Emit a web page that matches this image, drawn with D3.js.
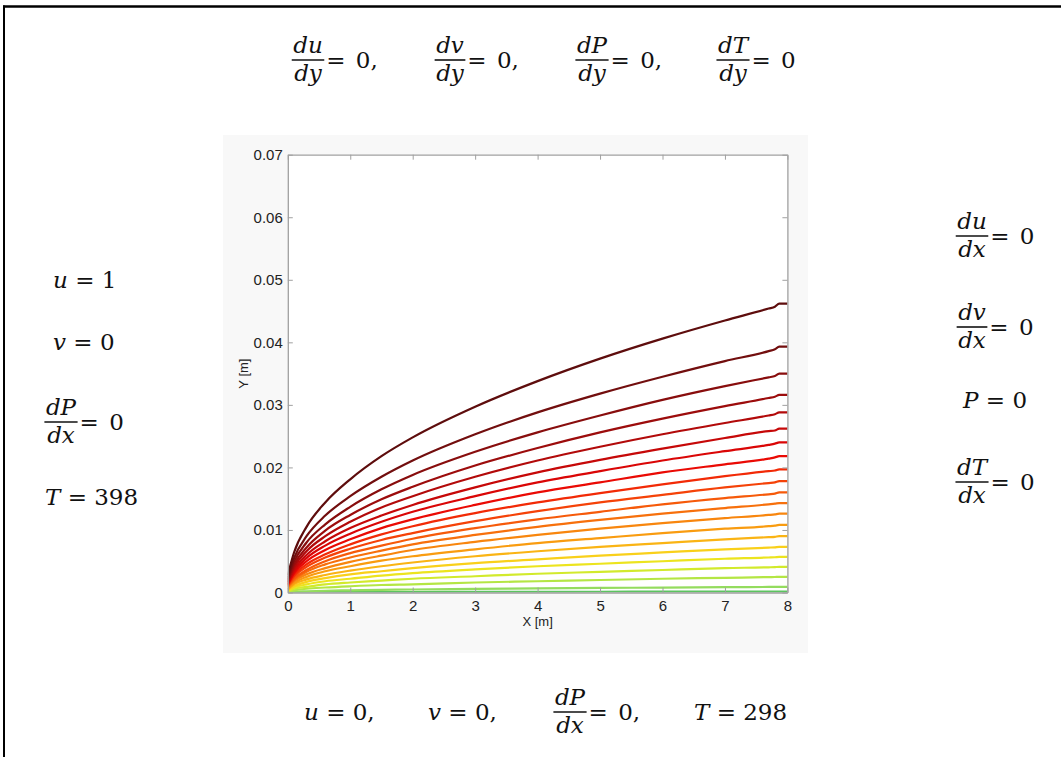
<!DOCTYPE html>
<html>
<head>
<meta charset="utf-8">
<script src="https://cdn.jsdelivr.net/npm/d3@7"></script>
<style>
  html, body { margin: 0; padding: 0; background: #fff; }
  svg { display: block; }
  .eq { font-family: "DejaVu Serif", serif; font-size: 23px; fill: #111; white-space: pre; }
  .tick text { font-family: "Liberation Sans", Arial, sans-serif; font-size: 15px; fill: #222; }
  .axlabel { font-family: "Liberation Sans", Arial, sans-serif; font-size: 13px; fill: #222; }
</style>
</head>
<body>
<svg id="fig" width="1061" height="757"></svg>
<script>
// Stations along the plate where the isotherm heights are sampled (m)
const xStations = [0, 0.1, 0.3, 0.6, 1, 1.5, 2, 3, 4, 5, 6, 7, 7.7, 7.8, 7.87, 8];

// Isotherm heights above the plate at each station (mm), outermost first
const isotherms = [
  [2.8, 6.4, 10.5, 14.4, 18.1, 21.8, 24.8, 29.7, 33.8, 37.4, 40.6, 43.5, 45.4, 45.7, 46.2, 46.2],
  [2.4, 5.5, 9.0, 12.3, 15.4, 18.5, 21.1, 25.3, 28.8, 31.8, 34.5, 37.0, 38.6, 38.9, 39.3, 39.3],
  [2.1, 4.9, 8.0, 10.9, 13.7, 16.5, 18.8, 22.5, 25.6, 28.3, 30.8, 33.0, 34.4, 34.6, 35.0, 35.0],
  [1.9, 4.4, 7.2, 9.9, 12.4, 14.9, 16.9, 20.3, 23.1, 25.6, 27.8, 29.8, 31.1, 31.3, 31.6, 31.6],
  [1.7, 4.0, 6.6, 9.0, 11.3, 13.6, 15.4, 18.5, 21.1, 23.3, 25.3, 27.1, 28.3, 28.5, 28.8, 28.8],
  [1.6, 3.6, 6.0, 8.2, 10.3, 12.3, 14.0, 16.8, 19.2, 21.2, 23.0, 24.7, 25.8, 25.9, 26.2, 26.2],
  [1.4, 3.3, 5.5, 7.5, 9.4, 11.3, 12.9, 15.4, 17.6, 19.4, 21.1, 22.6, 23.6, 23.8, 24.0, 24.0],
  [1.3, 3.0, 5.0, 6.8, 8.5, 10.3, 11.7, 14.0, 16.0, 17.6, 19.2, 20.5, 21.4, 21.6, 21.8, 21.8],
  [1.2, 2.7, 4.5, 6.1, 7.7, 9.3, 10.6, 12.7, 14.4, 15.9, 17.3, 18.6, 19.4, 19.5, 19.7, 19.7],
  [1.1, 2.5, 4.1, 5.6, 7.0, 8.4, 9.5, 11.4, 13.0, 14.4, 15.6, 16.8, 17.5, 17.6, 17.8, 17.8],
  [1.0, 2.2, 3.6, 5.0, 6.3, 7.5, 8.6, 10.3, 11.7, 12.9, 14.1, 15.1, 15.7, 15.8, 16.0, 16.0],
  [0.9, 2.0, 3.3, 4.5, 5.6, 6.7, 7.7, 9.2, 10.5, 11.6, 12.6, 13.5, 14.1, 14.2, 14.3, 14.3],
  [0.8, 1.8, 2.9, 3.9, 4.9, 5.9, 6.8, 8.1, 9.2, 10.2, 11.1, 11.9, 12.4, 12.5, 12.6, 12.6],
  [0.6, 1.5, 2.5, 3.4, 4.2, 5.1, 5.8, 6.9, 7.9, 8.7, 9.5, 10.2, 10.6, 10.7, 10.8, 10.8],
  [0.5, 1.3, 2.1, 2.8, 3.5, 4.2, 4.8, 5.8, 6.6, 7.3, 7.9, 8.5, 8.85, 8.9, 9.0, 9.0],
  [0.4, 1.0, 1.7, 2.3, 2.9, 3.4, 3.9, 4.7, 5.3, 5.9, 6.4, 6.9, 7.18, 7.23, 7.3, 7.3],
  [0.3, 0.8, 1.3, 1.8, 2.2, 2.7, 3.1, 3.7, 4.2, 4.6, 5.0, 5.4, 5.6, 5.64, 5.7, 5.7],
  [0.2, 0.6, 0.9, 1.3, 1.6, 1.9, 2.2, 2.6, 3.0, 3.3, 3.6, 3.9, 4.03, 4.06, 4.1, 4.1],
  [0.1, 0.35, 0.6, 0.8, 1.0, 1.2, 1.3, 1.6, 1.8, 2.0, 2.2, 2.35, 2.46, 2.48, 2.5, 2.5],
  [0.05, 0.13, 0.2, 0.28, 0.35, 0.42, 0.48, 0.58, 0.66, 0.73, 0.79, 0.85, 0.885, 0.89, 0.9, 0.9],
  [0, 0.02, 0.04, 0.05, 0.06, 0.07, 0.08, 0.1, 0.11, 0.12, 0.13, 0.14, 0.15, 0.15, 0.15, 0.15]
];

// Colour of each isotherm, hot (outer) to cold (wall)
const isothermColors = [
  "#5e0d0d", "#720e0e", "#880d0d", "#9c0c0c", "#b20a0a", "#c60808", "#da0606",
  "#ea0a04", "#f22a06", "#f54208", "#f65a0a", "#f7700c", "#f8860e", "#f99c10",
  "#fab414", "#f9d01a", "#ece41e", "#d2ea2c", "#b4e644", "#94dc5e", "#5cc460"
];

const xTicks = [0, 1, 2, 3, 4, 5, 6, 7, 8];
const yTicks = [0, 0.01, 0.02, 0.03, 0.04, 0.05, 0.06, 0.07];

const svg = d3.select("#fig");

// outer frame (top and left rules)
svg.append("line").attr("x1", 3).attr("x2", 1061).attr("y1", 6.5).attr("y2", 6.5)
  .attr("stroke", "#000").attr("stroke-width", 2.5);
svg.append("line").attr("x1", 4).attr("x2", 4).attr("y1", 5.5).attr("y2", 757)
  .attr("stroke", "#000").attr("stroke-width", 2);

// figure panel behind the plot
svg.append("rect").attr("x", 223).attr("y", 135).attr("width", 585).attr("height", 518)
  .attr("fill", "#f8f8f8");

const x = d3.scaleLinear().domain([0, 8]).range([287.8, 787.4]);
const y = d3.scaleLinear().domain([0, 0.07]).range([592.5, 154.7]);

svg.append("rect").attr("x", x(0)).attr("y", y(0.07))
  .attr("width", x(8) - x(0)).attr("height", y(0) - y(0.07)).attr("fill", "#fff");

svg.append("clipPath").attr("id", "plotclip").append("rect")
  .attr("x", x(0)).attr("y", y(0.07) - 2)
  .attr("width", x(8) - x(0) + 1).attr("height", y(0) - y(0.07) + 2);

const line = d3.line()
  .x(d => x(d[0]))
  .y(d => y(d[1] / 1000))
  .curve(d3.curveMonotoneX);

const gLines = svg.append("g").attr("clip-path", "url(#plotclip)");
// draw coldest first so the hot isotherms sit on top near the leading edge
for (let i = isotherms.length - 1; i >= 0; i--) {
  const pts = xStations.map((xs, j) => [xs, isotherms[i][j]]);
  gLines.append("path").datum(pts)
    .attr("d", line)
    .attr("fill", "none")
    .attr("stroke", isothermColors[i])
    .attr("stroke-width", 2.2)
    .attr("stroke-linejoin", "round");
}

// axes: ticks point inward on all four sides
const axisColor = "#a0a0a0";
function styleAxis(g) {
  g.selectAll(".domain").attr("stroke", axisColor).attr("stroke-width", 1.3);
  g.selectAll(".tick line").attr("stroke", axisColor).attr("stroke-width", 1);
}
const yFmt = d => d === 0 ? "0" : d.toFixed(2);

svg.append("g").attr("transform", `translate(0,${y(0)})`)
  .call(d3.axisBottom(x).tickValues(xTicks).tickSizeInner(-5).tickSizeOuter(0).tickPadding(8).tickFormat(d3.format("d")))
  .call(styleAxis);
svg.append("g").attr("transform", `translate(0,${y(0.07)})`)
  .call(d3.axisTop(x).tickValues(xTicks).tickSizeInner(-5).tickSizeOuter(0).tickFormat(""))
  .call(styleAxis);
svg.append("g").attr("transform", `translate(${x(0)},0)`)
  .call(d3.axisLeft(y).tickValues(yTicks).tickSizeInner(-5).tickSizeOuter(0).tickPadding(5).tickFormat(yFmt))
  .call(styleAxis);
svg.append("g").attr("transform", `translate(${x(8)},0)`)
  .call(d3.axisRight(y).tickValues(yTicks).tickSizeInner(-5).tickSizeOuter(0).tickFormat(""))
  .call(styleAxis);
svg.selectAll(".tick text").attr("font-family", null).attr("font-size", null);

svg.append("text").attr("class", "axlabel")
  .attr("x", (x(0) + x(8)) / 2).attr("y", 626).attr("text-anchor", "middle").text("X [m]");
svg.append("text").attr("class", "axlabel")
  .attr("transform", `translate(248,${(y(0) + y(0.07)) / 2}) rotate(-90)`)
  .attr("text-anchor", "middle").text("Y [m]");

// boundary-condition equations
const gEq = svg.append("g");

// parts: [text, italic, extra gap before it]
function runText(x0, baseline, parts) {
  const t = gEq.append("text").attr("class", "eq").attr("x", x0).attr("y", baseline);
  parts.forEach(([s, it, gap]) => {
    const ts = t.append("tspan").attr("font-style", it ? "italic" : "normal").text(s);
    if (gap) ts.attr("dx", gap);
  });
  return t;
}

function fraction(cx, barY, num, den, tail) {
  const n = gEq.append("text").attr("class", "eq").attr("x", cx).attr("y", barY - 7)
    .attr("text-anchor", "middle").attr("font-style", "italic").text(num);
  const d = gEq.append("text").attr("class", "eq").attr("x", cx).attr("y", barY + 21)
    .attr("text-anchor", "middle").attr("font-style", "italic").text(den);
  const w = Math.max(n.node().getComputedTextLength(), d.node().getComputedTextLength()) + 3;
  gEq.append("line").attr("x1", cx - w / 2).attr("x2", cx + w / 2)
    .attr("y1", barY).attr("y2", barY).attr("stroke", "#111").attr("stroke-width", 1.6);
  if (tail) runText(cx + w / 2 + 2, barY + 8, [["=", false], [" " + tail, false, 3]]);
}

// top wall
fraction(308, 60, "du", "dy", "0,");
fraction(450, 60, "dv", "dy", "0,");
fraction(592, 60, "dP", "dy", "0,");
fraction(733, 60, "dT", "dy", "0");

// inlet
runText(53, 288, [["u", true], [" = 1", false]]);
runText(53, 350, [["v", true], [" = 0", false]]);
fraction(61, 422, "dP", "dx", "0");
runText(45, 505, [["T", true], [" = 398", false]]);

// outlet
fraction(972, 236, "du", "dx", "0");
fraction(972, 327, "dv", "dx", "0");
runText(963, 408, [["P", true], [" = 0", false]]);
fraction(972, 482, "dT", "dx", "0");

// plate
runText(304, 720, [["u", true], [" = 0,", false]]);
runText(428, 720, [["v", true], [" = 0,", false]]);
fraction(570, 712, "dP", "dx", "0,");
runText(694, 720, [["T", true], [" = 298", false]]);
</script>
</body>
</html>
